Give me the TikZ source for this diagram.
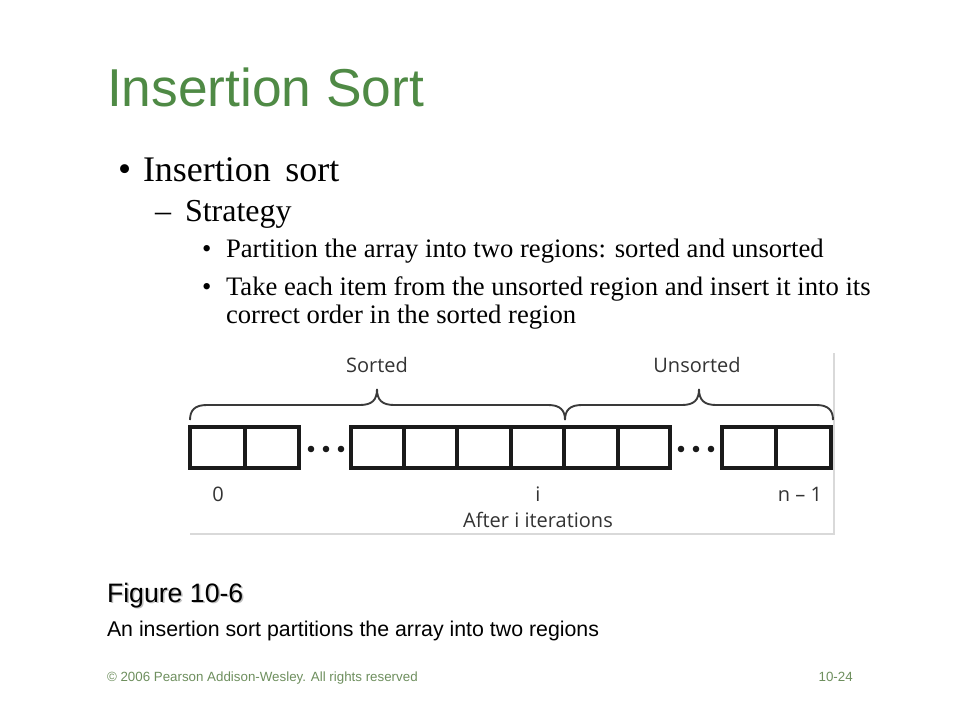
\documentclass[tikz,border=0pt]{standalone}
\usepackage{fontspec}
\setmainfont{Liberation Serif}
\newfontfamily\arialf{Liberation Sans}
\newfontfamily\figf{Open Sans}
\definecolor{titlegreen}{HTML}{4F8A45}
\definecolor{footgreen}{HTML}{6E8F5E}
\definecolor{figline}{HTML}{1A1A1A}
\definecolor{bracec}{HTML}{3A3A3A}
\begin{document}
\begin{tikzpicture}[x=0.75pt,y=-0.75pt,
  txt/.style={anchor=base west,inner sep=0pt,outer sep=0pt},
  cellbox/.style={draw=figline,line width=2.6pt},
  figtxt/.style={anchor=base,inner sep=0pt,font=\figf\fontsize{15}{18}\selectfont,text=black!80},
  brace/.style={draw=bracec,line width=1.4pt}]
\useasboundingbox[fill=white] (0,0) rectangle (960,720);
% title
\node[txt,text=titlegreen,font=\arialf\fontsize{40}{48}\selectfont] (title) at (107,107) {Insertion Sort};
% bullets
\node[txt,font=\fontsize{28}{32}\selectfont] (b1) at (118,182) {\textbullet};
\node[txt,font=\fontsize{27}{32}\selectfont] (t1) at (143,182) {Insertion\hspace{0.4em}sort};
\node[txt,font=\fontsize{24}{28}\selectfont] (b2) at (155,222) {–};
\node[txt,font=\fontsize{24}{28}\selectfont] (t2) at (185,222) {Strategy};
\node[txt,font=\fontsize{20}{24}\selectfont] (b3) at (202,258) {\textbullet};
\node[txt,font=\fontsize{20}{24}\selectfont] (t3) at (226,258) {Partition the array into two regions: sorted and unsorted};
\node[txt,font=\fontsize{20}{24}\selectfont] (b4) at (202,296) {\textbullet};
\node[txt,font=\fontsize{20}{24}\selectfont] (t4) at (226,296) {Take each item from the unsorted region and insert it into its};
\node[txt,font=\fontsize{20}{24}\selectfont] (t5) at (226,324) {correct order in the sorted region};
% figure frame
\draw[black!15,line width=0.8pt] (190,534) -- (834,534) -- (834,353);
% labels
\node[figtxt] (sorted) at (377,372) {Sorted};
\node[figtxt] (unsorted) at (697,372) {Unsorted};
% braces
\draw[brace] (190,420) .. controls (190,410) and (195,405) .. (207,405) -- (360,405)
  .. controls (372,405) and (377,400) .. (377,389)
  .. controls (377,400) and (382,405) .. (394,405) -- (548,405)
  .. controls (560,405) and (565,410) .. (565,420);
\draw[brace] (565,420) .. controls (565,410) and (570,405) .. (582,405) -- (682,405)
  .. controls (694,405) and (699,400) .. (699,389)
  .. controls (699,400) and (704,405) .. (716,405) -- (816,405)
  .. controls (828,405) and (833,410) .. (833,420);
% cells
\foreach \a/\b in {190/245,245/299,351/404,404/457,457/511,511/564,564/618,618/670,722/776,776/831}
  \draw[cellbox] (\a,427) rectangle (\b,468);
% dots
\foreach \x in {311,326,341,681,696,711}
  \fill[figline] (\x,449) circle (3.3);
% index labels
\node[figtxt] (l0) at (218,501) {0};
\node[figtxt] (li) at (538,501) {i};
\node[figtxt] (ln) at (800,501) {n – 1};
\node[figtxt] (after) at (538,527) {After i iterations};
% caption
\node[txt,text=black!25,font=\arialf\fontsize{20}{24}\selectfont] at (108.5,603.5) {Figure 10-6};
\node[txt,font=\arialf\fontsize{20}{24}\selectfont] (fig) at (107,602) {Figure 10-6};
\node[txt,font=\arialf\fontsize{16}{19}\selectfont] (cap) at (107,636) {An insertion sort partitions the array into two regions};
% footer
\node[txt,text=footgreen,font=\arialf\fontsize{10}{12}\selectfont] (foot) at (107,681) {© 2006 Pearson Addison-Wesley. All rights reserved};
\node[anchor=base east,inner sep=0pt,text=footgreen,font=\arialf\fontsize{10}{12}\selectfont] (pg) at (853,681) {10-24};
\end{tikzpicture}
\end{document}
